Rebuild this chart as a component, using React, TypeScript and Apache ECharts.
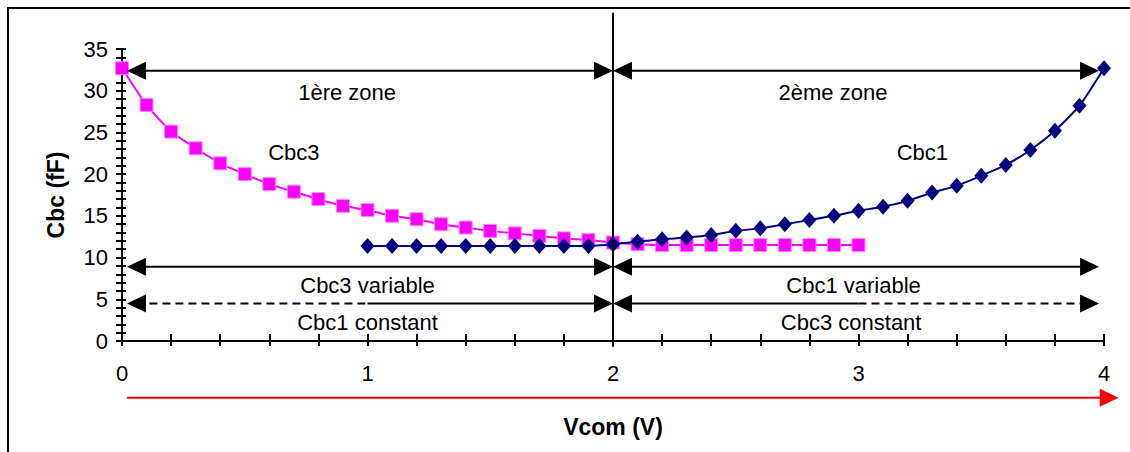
import React, { useEffect, useRef } from "react";
import * as echarts from "echarts";

// ---- data ----
const cbc3X = [0, 0.1, 0.2, 0.3, 0.4, 0.5, 0.6, 0.7, 0.8, 0.9, 1.0, 1.1, 1.2, 1.3, 1.4, 1.5, 1.6, 1.7, 1.8, 1.9, 2.0, 2.1, 2.2, 2.3, 2.4, 2.5, 2.6, 2.7, 2.8, 2.9, 3.0];
const cbc3Y = [32.7, 28.3, 25.1, 23.1, 21.3, 20.0, 18.8, 17.9, 17.0, 16.2, 15.7, 15.0, 14.6, 14.0, 13.6, 13.2, 12.9, 12.6, 12.3, 12.1, 11.8, 11.6, 11.5, 11.5, 11.5, 11.5, 11.5, 11.5, 11.5, 11.5, 11.5];
const cbc1X = [1.0, 1.1, 1.2, 1.3, 1.4, 1.5, 1.6, 1.7, 1.8, 1.9, 2.0, 2.1, 2.2, 2.3, 2.4, 2.5, 2.6, 2.7, 2.8, 2.9, 3.0, 3.1, 3.2, 3.3, 3.4, 3.5, 3.6, 3.7, 3.8, 3.9, 4.0];
const cbc1Y = [11.4, 11.4, 11.4, 11.4, 11.4, 11.4, 11.4, 11.4, 11.4, 11.4, 11.6, 11.9, 12.2, 12.4, 12.7, 13.2, 13.5, 14.0, 14.5, 15.0, 15.6, 16.1, 16.8, 17.8, 18.6, 19.8, 21.1, 22.9, 25.2, 28.2, 32.7];

const xTickLabels = ["0", "1", "2", "3", "4"];
const yTickLabels = ["0", "5", "10", "15", "20", "25", "30", "35"];

// arrows: [xStart, xEnd, y, dashedFrom, dashedTo, kind] kind 0 = black double-headed, 1 = red right-headed
const arrowRows = [
  [0.02, 2.0, 32.4, 0, 0, 0],
  [2.0, 3.98, 32.4, 0, 0, 0],
  [0.02, 2.0, 8.9, 0, 0, 0],
  [2.0, 3.98, 8.9, 0, 0, 0],
  [0.02, 2.0, 4.5, 0.02, 1.0, 0],
  [2.0, 3.98, 4.5, 3.0, 3.98, 0],
  [0.02, 4.06, -6.8, 0, 0, 1],
];

// separator: [x, yBottom, yTop]
const separatorRows = [[2.0, -0.7, 39.35]];

const labelTexts = ["1ère zone", "2ème zone", "Cbc3", "Cbc1", "Cbc3 variable", "Cbc1 variable", "Cbc1 constant", "Cbc3 constant"];
const labelX = [0.917, 2.896, 0.7, 3.26, 1.0, 2.98, 1.0, 2.97];
const labelY = [29.8, 29.8, 22.65, 22.65, 6.6, 6.7, 2.16, 2.16];

const FONT = '"Liberation Sans", Arial, Helvetica, sans-serif';

export default function App() {
  const ref = useRef<HTMLDivElement>(null);

  useEffect(() => {
    const chart = echarts.init(ref.current!, null, { renderer: "svg" });

    const arrowRender = (params: any, api: any) => {
      const x1 = api.value(0);
      const x2 = api.value(1);
      const y = api.value(2);
      const ds = api.value(3);
      const de = api.value(4);
      const kind = api.value(5);
      const p1 = api.coord([x1, y]);
      const p2 = api.coord([x2, y]);
      const py = p1[1];
      const L = 19;
      const H = 9;
      const color = kind === 1 ? "#FF0000" : "#000000";
      const children: any[] = [];
      const a = kind === 1 ? p1[0] : p1[0] + L * 0.5;
      const b = p2[0] - L * 0.5;
      const seg = (s: number, e: number, dashed: boolean) => {
        if (e - s <= 0.5) return;
        children.push({
          type: "line",
          shape: { x1: s, y1: py, x2: e, y2: py },
          style: { stroke: color, lineWidth: 2, lineDash: dashed ? [8, 5] : null },
        });
      };
      if (de > ds) {
        const da = Math.max(a, api.coord([ds, y])[0]);
        const db = Math.min(b, api.coord([de, y])[0]);
        seg(a, da, false);
        seg(da, db, true);
        seg(db, b, false);
      } else {
        seg(a, b, false);
      }
      if (kind !== 1) {
        children.push({
          type: "polygon",
          shape: { points: [[p1[0], py], [p1[0] + L, py - H], [p1[0] + L, py + H]] },
          style: { fill: color },
        });
      }
      children.push({
        type: "polygon",
        shape: { points: [[p2[0], py], [p2[0] - L, py - H], [p2[0] - L, py + H]] },
        style: { fill: color },
      });
      return { type: "group", children };
    };

    const sepRender = (params: any, api: any) => {
      const p1 = api.coord([api.value(0), api.value(1)]);
      const p2 = api.coord([api.value(0), api.value(2)]);
      return {
        type: "line",
        shape: { x1: p1[0], y1: p1[1], x2: p2[0], y2: p2[1] },
        style: { stroke: "#000", lineWidth: 2 },
      };
    };

    const labelRender = (params: any, api: any) => {
      const p = api.coord([api.value(0), api.value(1)]);
      return {
        type: "text",
        x: p[0],
        y: p[1],
        style: {
          text: labelTexts[params.dataIndex],
          fill: "#000",
          fontSize: 22,
          fontFamily: FONT,
          align: "center",
          verticalAlign: "middle",
        },
      };
    };

    const xFmt = (v: number) => {
      const r = Math.round(v);
      return Math.abs(v - r) < 1e-6 ? xTickLabels[r] ?? "" : "";
    };
    const yFmt = (v: number) => {
      const r = Math.round(v);
      return r % 5 === 0 ? yTickLabels[r / 5] ?? "" : "";
    };

    chart.setOption({
      animation: false,
      backgroundColor: "#ffffff",
      grid: { left: 122, right: 26, top: 49, bottom: 111 },
      graphic: [
        {
          type: "rect",
          shape: { x: 8, y: 8, width: 1300, height: 600 },
          style: { fill: "none", stroke: "#000", lineWidth: 2 },
          silent: true,
          z: 100,
        },
      ],
      xAxis: [
        {
          type: "value",
          min: 0,
          max: 4,
          interval: 0.2,
          position: "bottom",
          splitLine: { show: false },
          axisLine: { show: true, onZero: false, lineStyle: { color: "#000", width: 2 } },
          axisTick: { show: true, inside: false, length: 5, lineStyle: { color: "#000", width: 2 } },
          axisLabel: { formatter: xFmt, color: "#000", fontSize: 22, fontFamily: FONT, margin: 21 },
          name: "Vcom (V)",
          nameLocation: "middle",
          nameGap: 74,
          nameTextStyle: { color: "#000", fontSize: 23, fontWeight: "bold", fontFamily: FONT },
        },
        {
          type: "value",
          min: 0,
          max: 4,
          interval: 0.2,
          position: "bottom",
          splitLine: { show: false },
          axisLine: { show: false, onZero: false },
          axisTick: { show: true, inside: true, length: 7, lineStyle: { color: "#000", width: 2 } },
          axisLabel: { show: false },
        },
      ],
      yAxis: [
        {
          type: "value",
          min: 0,
          max: 35,
          interval: 1,
          position: "left",
          splitLine: { show: false },
          axisLine: { show: true, onZero: false, lineStyle: { color: "#000", width: 2 } },
          axisTick: { show: true, inside: false, length: 6, lineStyle: { color: "#000", width: 2 } },
          axisLabel: { formatter: yFmt, color: "#000", fontSize: 22, fontFamily: FONT, margin: 14 },
          name: "Cbc (fF)",
          nameLocation: "middle",
          nameGap: 55,
          nameTextStyle: { color: "#000", fontSize: 23, fontWeight: "bold", fontFamily: FONT },
        },
        {
          type: "value",
          min: 0,
          max: 35,
          interval: 1,
          position: "left",
          splitLine: { show: false },
          axisLine: { show: false, onZero: false },
          axisTick: { show: true, inside: true, length: 4, lineStyle: { color: "#000", width: 2 } },
          axisLabel: { show: false },
        },
      ],
      series: [
        {
          type: "line",
          name: "Cbc3",
          data: cbc3X.map((x, i) => [x, cbc3Y[i]]),
          smooth: 0.2,
          symbol: "rect",
          symbolSize: 13,
          lineStyle: { color: "#FF00FF", width: 2 },
          itemStyle: { color: "#FF00FF", borderColor: "#FF88FF", borderWidth: 1 },
          z: 3,
        },
        {
          type: "line",
          name: "Cbc1",
          data: cbc1X.map((x, i) => [x, cbc1Y[i]]),
          smooth: 0.2,
          symbol: "diamond",
          symbolSize: [14, 16],
          lineStyle: { color: "#000080", width: 2 },
          itemStyle: { color: "#000080" },
          z: 4,
        },
        {
          type: "custom",
          name: "arrows",
          renderItem: arrowRender,
          data: arrowRows,
          encode: { x: [0, 1], y: 2 },
          clip: false,
          silent: true,
          z: 5,
        },
        {
          type: "custom",
          name: "separator",
          renderItem: sepRender,
          data: separatorRows,
          encode: { x: 0, y: [1, 2] },
          clip: false,
          silent: true,
          z: 6,
        },
        {
          type: "custom",
          name: "labels",
          renderItem: labelRender,
          data: labelX.map((x, i) => [x, labelY[i]]),
          encode: { x: 0, y: 1 },
          clip: false,
          silent: true,
          z: 7,
        },
      ],
    });

    return () => chart.dispose();
  }, []);

  return (
    <div
      ref={ref}
      style={{ position: "absolute", left: 0, top: 0, width: 1130, height: 452, background: "#fff" }}
    />
  );
}
